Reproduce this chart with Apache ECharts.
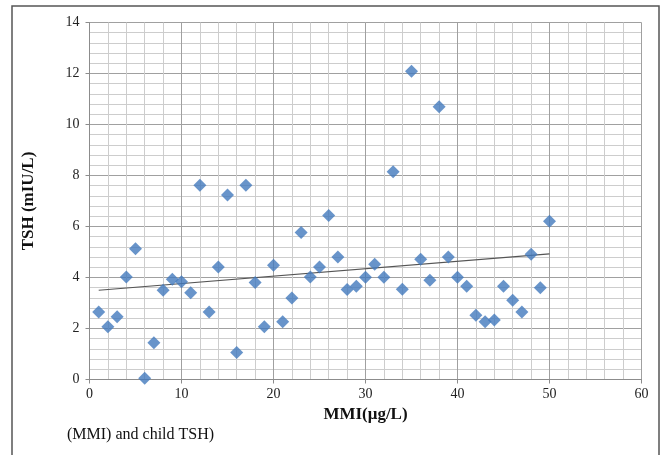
<!DOCTYPE html>
<html>
<head>
<meta charset="utf-8">
<script src="https://cdn.jsdelivr.net/npm/echarts@6/dist/echarts.min.js"></script>
<style>html,body{margin:0;padding:0;background:#fff}#c{width:662px;height:455px}</style>
</head>
<body>
<div id="c"></div>
<script>
const mmi = [1,2,3,4,5,6,7,8,9,10,11,12,13,14,15,16,17,18,19,20,21,22,23,24,25,26,27,28,29,30,31,32,33,34,35,36,37,38,39,40,41,42,43,44,45,46,47,48,49,50];
const tsh = [2.65,2.07,2.46,4.02,5.13,0.05,1.44,3.5,3.93,3.83,3.4,7.62,2.65,4.41,7.24,1.06,7.62,3.8,2.07,4.48,2.26,3.2,5.76,4.02,4.41,6.43,4.8,3.53,3.66,4.01,4.52,4.01,8.15,3.54,12.09,4.72,3.89,10.7,4.8,4.01,3.66,2.52,2.26,2.33,3.66,3.11,2.65,4.91,3.6,6.21];
const trendX = [1, 50];
const trendY = [3.5, 4.93];
const xTicks = [0,10,20,30,40,50,60];
const yTicks = [0,2,4,6,8,10,12,14];

const points = mmi.map((x,i)=>[x,tsh[i]]);
const trend = trendX.map((x,i)=>[x,trendY[i]]);
const serif = '"Liberation Serif","DejaVu Serif",serif';

const chart = echarts.init(document.getElementById('c'), null, {renderer:'canvas'});
chart.setOption({
  animation:false,
  backgroundColor:'#fff',
  grid:{left:89.5, right:20.5, top:22.5, bottom:75.5},
  xAxis:{
    type:'value', min:xTicks[0], max:xTicks[xTicks.length-1], interval:10,
    axisLine:{show:true, onZero:false, lineStyle:{color:'#8c8c8c', width:1}},
    axisTick:{show:true, length:4, lineStyle:{color:'#8c8c8c'}},
    axisLabel:{color:'#222', fontFamily:serif, fontSize:14, margin:8},
    splitLine:{show:true, lineStyle:{color:'#a0a0a0', width:1}},
    minorTick:{show:false, splitNumber:5},
    minorSplitLine:{show:true, lineStyle:{color:'#cdcdcd', width:1}},
    name:'MMI(μg/L)', nameLocation:'middle', nameGap:25,
    nameTextStyle:{fontFamily:serif, fontSize:17, fontWeight:'bold', color:'#111'}
  },
  yAxis:{
    type:'value', min:yTicks[0], max:yTicks[yTicks.length-1], interval:2,
    axisLine:{show:true, onZero:false, lineStyle:{color:'#8c8c8c', width:1}},
    axisTick:{show:true, length:4, lineStyle:{color:'#8c8c8c'}},
    axisLabel:{color:'#222', fontFamily:serif, fontSize:14, margin:10},
    splitLine:{show:true, lineStyle:{color:'#a0a0a0', width:1}},
    minorTick:{show:false, splitNumber:5},
    minorSplitLine:{show:true, lineStyle:{color:'#cdcdcd', width:1}},
    name:'TSH (mIU/L)', nameLocation:'middle', nameGap:52, nameRotate:90,
    nameTextStyle:{fontFamily:serif, fontSize:17, fontWeight:'bold', color:'#111'}
  },
  series:[
    {type:'line', data:trend, symbol:'none', lineStyle:{color:'#555', width:1.2}, z:3},
    {type:'scatter', data:points, symbol:'diamond', symbolSize:[13,13],
     itemStyle:{color:'#4279bd'}, z:4}
  ],
  graphic:[
    {type:'rect', shape:{x:12, y:6, width:647, height:460},
     style:{fill:'none', stroke:'#555', lineWidth:1.5}, silent:true},
    {type:'text', left:67, top:427,
     style:{text:'(MMI) and child TSH)', fontFamily:serif, fontSize:16, fill:'#111'}}
  ]
});
</script>
</body>
</html>
